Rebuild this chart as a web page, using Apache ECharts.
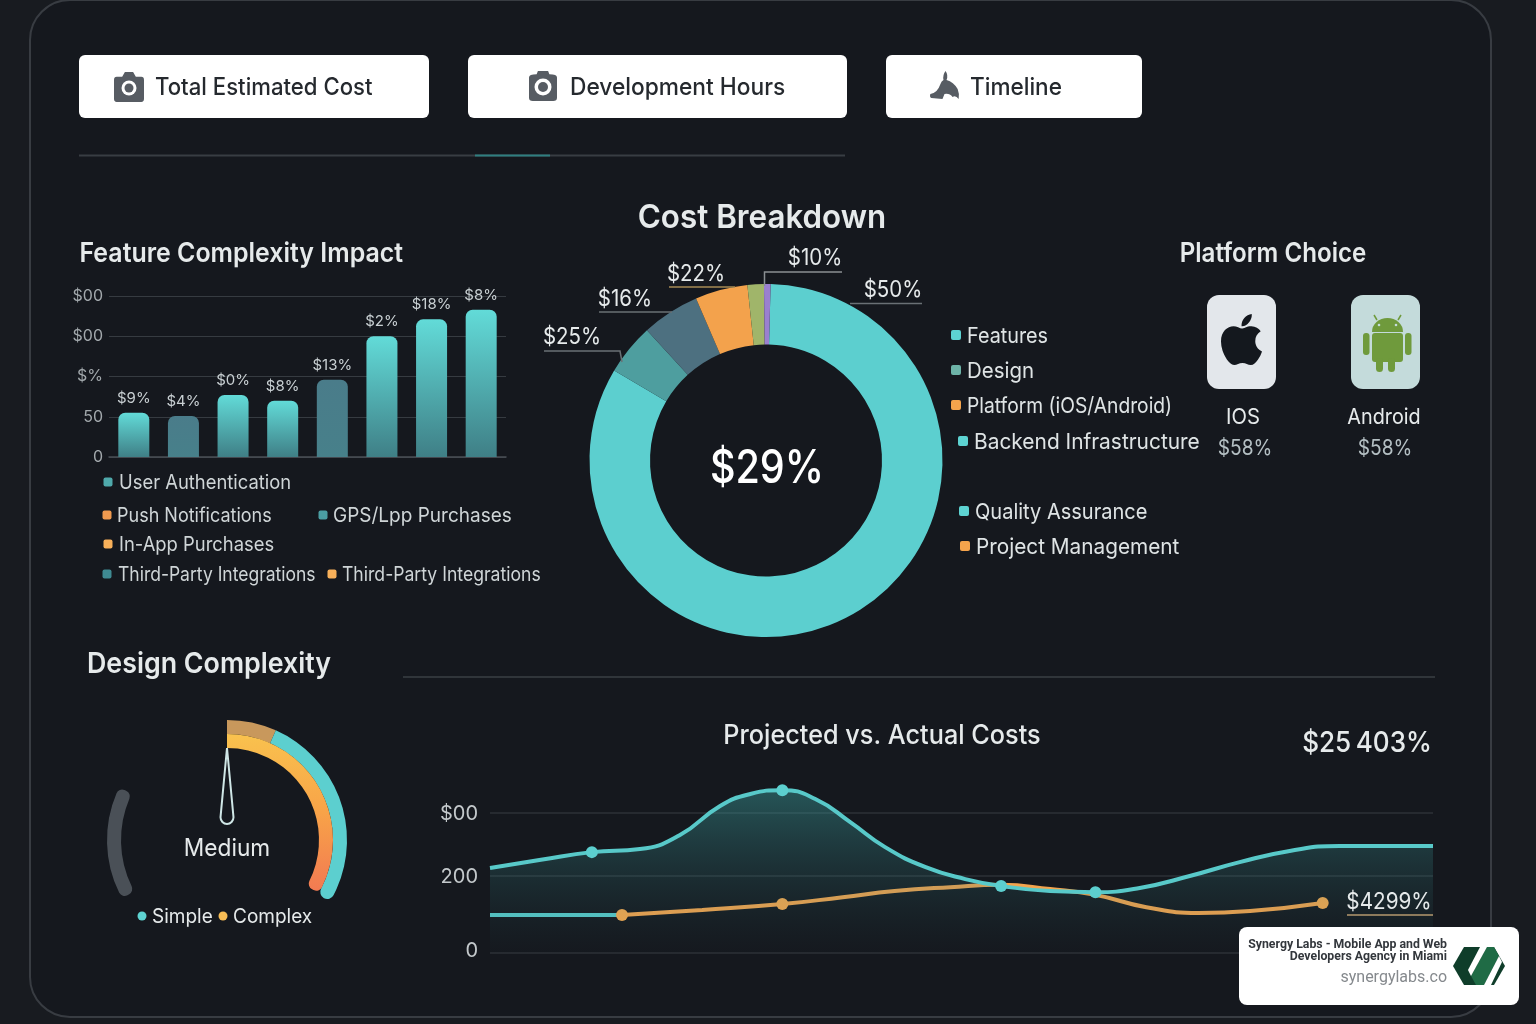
<!DOCTYPE html>
<html><head><meta charset="utf-8">
<style>html,body{margin:0;padding:0;background:#181b20}#c{width:1536px;height:1024px}</style>
<script src="https://cdn.jsdelivr.net/npm/echarts@6/dist/echarts.min.js"></script>
</head><body><div id="c"></div>
<script>
// ---- data ----
const buttonLabels = ['Total Estimated Cost','Development Hours','Timeline'];
const barCategories = ['A','B','C','D','E','F','G','H'];
const barValues = [55,51,77,70,96,150,171,183];
const barLabels = ['$9%','$4%','$0%','$8%','$13%','$2%','$18%','$8%'];
const barMuted = [1,4];
const barTickLabels = ['0','50','$%','$00','$00'];
const barLegend = ['User Authentication','Push Notifications','GPS/Lpp Purchases','In-App Purchases','Third-Party Integrations','Third-Party Integrations'];
const pieNames = ['Features','Design','Platform (iOS/Android)','Backend Infrastructure','Quality Assurance','Project Management'];
const pieValues = [83.1,4.7,5.3,4.8,1.5,0.6];
const pieLabels = ['$50%','$25%','$16%','$22%','$10%'];
const pieCenter = '$29%';
const platformNames = ['IOS','Android'];
const platformValues = ['$58%','$58%'];
const gaugeOuter = [24,97,120,55,64];
const gaugeInner = [120,240];
const gaugeLabel = 'Medium';
const gaugeLegend = ['Simple','Complex'];
const lineTicks = [0,200,364];
const lineTickLabels = {0:'{z|0}',200:'200',364:'$00'};
const projectedX = [0,5.4,10.8,15.9,20.1,24.4,27.6,31,34.5,38.2,41.9,46.2,50.4,54.2,59.4,64.2,68.9,74.2,79.5,84.8,90.1,95.4,100];
const projectedY = [221,242,262,270,306,382,413,423,400,340,275,223,192,174,161,158,169,200,236,265,278,278,278];
const projectedDots = [2,7,13,15];
const baselineX = [0,14];
const baselineY = [99,99];
const actualX = [14,22.5,31,37.4,42.9,48.8,54.2,59.4,64.2,69.6,75.1,80.6,88.3];
const actualY = [99,112,127,145,161,171,177,166,151,119,104,109,130];
const actualDots = [0,2,12];

// ---- colours ----
const BG='#15181e', TEAL='#5dd3d2', ORANGE='#f5a44c', TXT='#e6eaeb', FONT='Inter, "Noto Sans", sans-serif';
const zip=(a,b)=>a.map((v,i)=>[v,b[i]]);

// ---- graphic helpers ----
const g=[], icons=[];
const text=(x,y,t,size,opt={})=>g.push({type:'text',x,y,scaleX:opt.sx||1,silent:true,z:opt.z||10,style:{text:t,fill:opt.fill||TXT,font:`${opt.weight||400} ${size}px ${opt.font||FONT}`,textAlign:opt.align||'left',textVerticalAlign:'middle'}});
const rect=(x,y,w,h,r,fill,opt={})=>g.push({type:'rect',silent:true,z:opt.z||5,shape:{x,y,width:w,height:h,r},style:{fill,stroke:opt.stroke,lineWidth:opt.lw||0}});
const line=(pts,stroke,lw=1.5)=>g.push({type:'polyline',silent:true,z:6,shape:{points:pts},style:{stroke,lineWidth:lw,fill:null}});
const path=(d,x,y,w,h,fill,opt={})=>icons.push({type:'path',shape:{pathData:d,x,y,width:w,height:h,layout:'cover'},style:{fill,stroke:opt.stroke,lineWidth:opt.lw||0}});
const circ=(cx,cy,r,fill,z=9)=>g.push({type:'circle',silent:true,z,shape:{cx,cy,r},style:{fill}});
const poly=(pts,fill,z=8)=>g.push({type:'polygon',silent:true,z,shape:{points:pts},style:{fill}});

// outer card
g.push({type:'rect',silent:true,z:0,shape:{x:30,y:0,width:1461,height:1017,r:40},style:{fill:BG,stroke:'#383c42',lineWidth:2}});

// buttons
rect(79,55,350,63,6,'#ffffff'); rect(468,55,379,63,6,'#ffffff'); rect(886,55,256,63,6,'#ffffff');
path('M9 3 L15 3 L17 6 L21 6 Q23 6 23 8 L23 20 Q23 22 21 22 L3 22 Q1 22 1 20 L1 8 Q1 6 3 6 L7 6 Z',114,72,30,30,'#575c63');
path('M8 1 L16 1 L17 4 Q23 4 23 7 L23 26 Q23 29 20 29 L4 29 Q1 29 1 26 L1 7 Q1 4 7 4 Z',529,71,28,30,'#575c63');
path('M16 0 Q19 4 17 9 Q24 11 28 18 Q30 23 29 28 Q26 24 23 26 Q20 22 15 23 L13 28 L2 27 Q0 26 1 23 Q8 22 11 13 Q12 10 14 9 Q13 4 16 0 Z',930,71,29,28,'#575c63');
text(155,88,buttonLabels[0],24,{fill:'#25292e',weight:500,sx:.923});
text(570,88,buttonLabels[1],24,{fill:'#25292e',weight:500,sx:.947});
text(970,88,buttonLabels[2],24,{fill:'#25292e',weight:500,sx:.94});

// divider
line([[79,155.5],[845,155.5]],'#383d43',2);
line([[475,155.5],[550,155.5]],'#2f7f80',2);
line([[403,677],[1435,677]],'#3a3f45',1.5);

// titles
text(79.5,254,'Feature Complexity Impact',27,{weight:600,sx:.923});
text(762,218,'Cost Breakdown',33,{weight:600,align:'center',sx:.95});
text(1273,254,'Platform Choice',27,{weight:600,align:'center',sx:.894});
text(87,664,'Design Complexity',29,{weight:600,sx:.924});
text(882,736,'Projected vs. Actual Costs',27,{weight:500,align:'center',sx:.935});
text(1432,743,'$25\u2009403%',29,{weight:500,align:'right',sx:.9});

// bar legend
[[108,482,119,'#4fa9ab',.92],[107,515,117,'#f09a4f',.90],[323,515,333,'#4b9ea3',.95],[108,544,119,'#f8b05a',.92],[107,574,118,'#3f8a92',.875],[332,574,342,'#f8b05a',.88]]
 .forEach((p,i)=>{rect(p[0]-4.5,p[1]-4.5,9,9,2,p[3]);text(p[2],p[1]+1,barLegend[i],20,{fill:'#cfd5d7',sx:p[4]});});

// pie legend
[[956,335,967,'#5dd3d2',.90],[956,370,967,'#6db3a8',.93],[956,405,967,'#f5a44c',.875],[963,441,974,'#5dd3d2',.95],[964,511,975,'#5dd3d2',.91],[965,546,976,'#f5a44c',.944]]
 .forEach((p,i)=>{rect(p[0]-5,p[1]-5,10,10,2,p[3]);text(p[2],p[1]+1,pieNames[i],22,{fill:'#dfe4e5',sx:p[4]});});

// pie annotations
const LEAD='#6a7075';
text(893,290.5,pieLabels[0],23,{align:'center',sx:.89}); line([[850,303.5],[922,303.5]],LEAD);
text(572,337,pieLabels[1],23,{align:'center',sx:.89}); line([[544,351],[620,351],[622,362]],LEAD);
text(625,299,pieLabels[2],23,{align:'center',sx:.89}); line([[599,312],[672,312]],LEAD);
text(696,274,pieLabels[3],23,{align:'center',sx:.89}); line([[669,287],[735,287]],'#a68a55');
text(815,258,pieLabels[4],23,{align:'center',sx:.89}); line([[764.5,286],[764.5,272],[842,272]],'#8a8f93');
text(767,469,pieCenter,46,{weight:500,align:'center',fill:'#ffffff',z:20,sx:.86});

// platform cards
rect(1207,295,69,94,12,'#e3e7eb'); rect(1351,295,69,94,12,'#c4dbdb');
path('M318.7 268.7c-.2-36.7 16.4-64.4 50-84.8-18.8-26.9-47.2-41.7-84.7-44.6-35.5-2.8-74.3 20.7-88.5 20.7-15 0-49.4-19.7-76.4-19.7C63.3 141.2 4 184.8 4 273.5q0 39.3 14.4 81.2c12.8 36.7 59 126.7 107.2 125.2 25.2-.6 43-17.9 75.8-17.9 31.8 0 48.3 17.9 76.4 17.9 48.6-.7 90.4-82.5 102.6-119.3-65.2-30.7-61.7-90-61.7-91.9zm-56.6-164.2c27.3-32.4 24.8-61.9 24-72.5-24.1 1.4-52 16.4-67.9 34.9-17.5 19.8-27.8 44.3-25.6 71.9 26.1 2 49.9-11.4 69.5-34.3z',1221,314,41,51,'#14181e');
const AG='#6f9a3c';
path('M0 16 A16 14 0 0 1 32 16 Z',1372,318,31,14,AG);
rect(1372,333,31,29,3,AG); rect(1363,333,6.5,22,3,AG); rect(1405,333,6.5,22,3,AG);
rect(1376,358,7,14,3.5,AG); rect(1388,358,7,14,3.5,AG);
line([[1377,320],[1374,315]],AG,1.5); line([[1398,320],[1401,315]],AG,1.5);
text(1243,417,platformNames[0],22,{align:'center',sx:.92});
text(1384,417,platformNames[1],22,{align:'center',sx:.9});
text(1245,448,platformValues[0],22,{align:'center',fill:'#b4bfc3',sx:.87});
text(1385,448,platformValues[1],22,{align:'center',fill:'#b4bfc3',sx:.87});

// gauge details
path('M6 0 L12 62 A6 6 0 1 1 0 62 Z',220.5,748,13,76,BG,{stroke:'#cfe6e6',lw:2});
text(227,849,gaugeLabel,24,{align:'center',sx:.945});
circ(142,916,4.5,TEAL);
circ(223,916,4.5,'#f8bd55');
text(152,917,gaugeLegend[0],20,{sx:.95});
text(233,917,gaugeLegend[1],20,{sx:.95});

// line annotations
text(1389,902,'$4299%',23,{align:'center',sx:.9});
line([[1347,915],[1433,915]],'#8d7a5c',2);

// attribution card
rect(1239,927,280,78,8,'#ffffff',{z:30});
text(1447,945,'Synergy Labs - Mobile App and Web',12,{align:'right',weight:700,fill:'#33373c',font:'Roboto, sans-serif',z:31,sx:1.025});
text(1447,957,'Developers Agency in Miami',12,{align:'right',weight:700,fill:'#33373c',font:'Roboto, sans-serif',z:31,sx:1.025});
text(1447,978,'synergylabs.co',16,{align:'right',fill:'#85898d',font:'Roboto, sans-serif',z:31});
poly([[1453,966],[1464,947],[1494,947],[1505,966],[1494,985],[1464,985]],'#0f3d2a',31);
poly([[1487,947],[1494,947],[1499,956],[1484,985],[1476,985],[1471,976]],'#1f6b45',32);
poly([[1480,947],[1487,947],[1471,976],[1468,970]],'#ffffff',33);
poly([[1499,956],[1502,962],[1491,985],[1484,985]],'#ffffff',33);

// ---- chart ----
const barGrad=(top,bot)=>new echarts.graphic.LinearGradient(0,0,0,1,[{offset:0,color:top},{offset:1,color:bot}]);
const orangeGrad=new echarts.graphic.LinearGradient(0,0,0,1,[{offset:0,color:'#f9c24e'},{offset:.5,color:'#f8a348'},{offset:1,color:'#f27a52'}]);
const hide={show:false};

const option={
 backgroundColor:'#181b20',
 animation:false,
 graphic:{elements:g},
 grid:[
  {left:109,top:296,width:397,height:161},
  {left:490,top:779.75,width:943,height:173.25}
 ],
 xAxis:[
  {gridIndex:0,type:'category',data:barCategories,axisLabel:hide,axisTick:hide,axisLine:{lineStyle:{color:'#4a4f55',width:1.5}}},
  {gridIndex:1,type:'value',min:0,max:100,axisLabel:hide,axisTick:hide,axisLine:hide,splitLine:hide}
 ],
 yAxis:[
  {gridIndex:0,type:'value',min:0,max:200,interval:50,axisLine:hide,axisTick:hide,
   axisLabel:{margin:6,padding:[3,0,0,0],color:'#a2a8ac',fontSize:16,fontFamily:FONT,formatter:(v)=>barTickLabels[v/50]},
   splitLine:{lineStyle:{color:'#363b41',width:1.2}}},
  {gridIndex:1,type:'value',min:0,max:450,axisLine:hide,axisTick:hide,splitLine:hide,
   axisLabel:{customValues:lineTicks,margin:12,padding:[2,0,0,0],color:'#c3c8cb',fontSize:20,fontFamily:FONT,formatter:(v)=>lineTickLabels[v],
     rich:{z:{padding:[0,0,7,0],color:'#c3c8cb',fontSize:20,fontFamily:FONT}}}}
 ],
 series:[
  {type:'bar',xAxisIndex:0,yAxisIndex:0,barWidth:31,z:3,
   data:barValues.map((v,i)=>({value:v,itemStyle:{borderRadius:[7,7,0,0],
     color:barMuted.includes(i)?barGrad('#4a7c8a','#47808a'):barGrad('#62dbd8','#3f7f86')}})),
   label:{show:true,position:'top',distance:7,color:'#c9d0d3',fontSize:15,fontFamily:FONT,formatter:(p)=>barLabels[p.dataIndex]}},
  {type:'pie',center:[766,460.5],radius:[116,176.5],startAngle:88.5,clockwise:true,label:hide,labelLine:hide,silent:true,z:3,
   data:pieNames.map((n,i)=>({name:n,value:pieValues[i],itemStyle:{color:['#5ccfcf','#4e9e9f','#4d7080','#f3a24c','#a0b56a','#9a80cf'][i]}}))},
  {type:'pie',center:[227,840],radius:[106,120],startAngle:90,clockwise:true,label:hide,labelLine:hide,silent:true,z:3,
   data:gaugeOuter.map((v,i)=>({value:v,itemStyle:{color:['#c8985c','#5ccfcf','rgba(0,0,0,0)','#4a5057','rgba(0,0,0,0)'][i],
     borderRadius:[[0,0,0,0],[0,7,0,7],[0,0,0,0],[6,6,6,6],[0,0,0,0]][i]}}))},
  {type:'pie',center:[227,840],radius:[92,106],startAngle:90,clockwise:true,label:hide,labelLine:hide,silent:true,z:4,
   data:gaugeInner.map((v,i)=>({value:v,itemStyle:{color:i?'rgba(0,0,0,0)':orangeGrad,borderRadius:i?0:[0,6,0,6]}}))},
  {type:'line',name:'Projected',xAxisIndex:1,yAxisIndex:1,data:zip(projectedX,projectedY),smooth:.5,z:5,
   symbol:'circle',symbolSize:(v,p)=>projectedDots.includes(p.dataIndex)?12:0,showAllSymbol:true,
   lineStyle:{color:'#58c9c9',width:4},itemStyle:{color:'#5ccfcf'},
   areaStyle:{color:new echarts.graphic.LinearGradient(0,0,0,1,[{offset:0,color:'rgba(62,170,168,0.6)'},{offset:1,color:'rgba(40,90,95,0.02)'}])},
   markLine:{silent:true,symbol:'none',label:hide,lineStyle:{color:'#2c3137',width:1.5,type:'solid'},data:lineTicks.map(t=>({yAxis:t}))}},
  {type:'line',name:'Baseline',xAxisIndex:1,yAxisIndex:1,data:zip(baselineX,baselineY),showSymbol:false,z:4,lineStyle:{color:'#58c9c9',width:4}},
  {type:'line',name:'Actual',xAxisIndex:1,yAxisIndex:1,data:zip(actualX,actualY),smooth:.5,z:4,
   symbol:'circle',symbolSize:(v,p)=>actualDots.includes(p.dataIndex)?12:0,showAllSymbol:true,
   lineStyle:{color:'#f3a44e',width:4},itemStyle:{color:'#f5a94f'}},
  {type:'custom',coordinateSystem:'none',z:8,silent:true,data:[0],
   renderItem:()=>({type:'group',children:icons})}
 ]
};
// camera lens details drawn over the icons by the custom series
[[129,88,7.5,'#ffffff'],[129,88,4.5,'#575c63'],[543,87,8.5,'#ffffff'],[543,87,5,'#575c63'],[1379,325,1.3,'#c4dbdb'],[1396,325,1.3,'#c4dbdb']]
 .forEach(c=>icons.push({type:'circle',shape:{cx:c[0],cy:c[1],r:c[2]},style:{fill:c[3]}}));
echarts.init(document.getElementById('c'),null,{renderer:'canvas'}).setOption(option);
</script></body></html>
